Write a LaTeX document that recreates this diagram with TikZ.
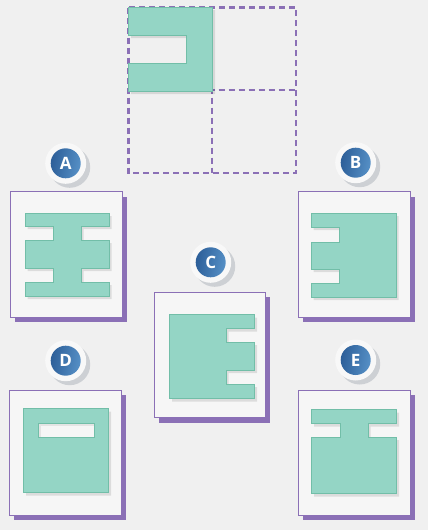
\documentclass[tikz,border=0pt]{standalone}
\usepackage{fontspec}
\setsansfont{Open Sans}
\definecolor{bg}{HTML}{F0F0F0}
\definecolor{piece}{HTML}{94D5C5}
\definecolor{piecedraw}{HTML}{72BEA8}
\definecolor{purp}{HTML}{8B70B6}
\definecolor{cardfill}{HTML}{F6F6F6}
\definecolor{bluedark}{HTML}{2D5F99}
\definecolor{bluelight}{HTML}{5690C6}
\definecolor{halo}{HTML}{F8F8F8}
\definecolor{haloshadow}{HTML}{CDD0D4}
\begin{document}
\begin{tikzpicture}[x=1pt,y=-1pt,
  shapestyle/.style={fill=piece,draw=piecedraw,line width=1pt,even odd rule,line join=miter},
  shapeshadow/.style={fill=black,fill opacity=0.10,even odd rule,draw=none},
  gridline/.style={draw=purp,line width=2.2pt,dash pattern=on 6pt off 4pt},
  cardbox/.style={fill=cardfill,draw=purp,line width=0.9pt},
  cardshadow/.style={fill=purp,draw=none},
  badge/.style={circle,minimum size=30pt,inner sep=0pt,left color=bluedark,right color=bluelight,shading angle=80,text=white,font=\sffamily\bfseries\fontsize{17}{17}\selectfont},
  halocircle/.style={circle,minimum size=41pt,inner sep=0pt,fill=halo},
  haloshade/.style={circle,minimum size=41pt,inner sep=0pt,fill=haloshadow}
]
\useasboundingbox (0,0) rectangle (428,530);
\fill[bg] (0,0) rectangle (428,530);

% ---------- top grid ----------
\draw[gridline] (128.5,7.5) rectangle (296,173);
\draw[gridline] (212.3,7.5) -- (212.3,173);
\draw[gridline] (128.5,90.3) -- (296,90.3);
\fill[shapeshadow] (131,10) -- (215,10) -- (215,94) -- (131,94) -- (131,66) -- (189,66) -- (189,38) -- (131,38) -- cycle;
\path[shapestyle] (128,7) -- (212,7) -- (212,91) -- (128,91) -- (128,63) -- (186,63) -- (186,35) -- (128,35) -- cycle;

% Card A
\fill[cardshadow] (15,196.5) rectangle (127,322);
\path[cardbox] (10,191.7) rectangle (122.5,317);
\node[haloshade] (hsA) at (69.7,167.3) {};
\node[halocircle] (hA) at (65.7,163.3) {};
\node[badge] (bA) at (hA) {A};
\begin{scope}[shift={(2.5,3)}]
\fill[shapeshadow] (25,213) -- (109,213) -- (109,226) -- (81,226) -- (81,240) -- (109,240) -- (109,268) -- (81,268) -- (81,282) -- (109,282) -- (109,296) -- (25,296) -- (25,282) -- (53,282) -- (53,268) -- (25,268) -- (25,240) -- (53,240) -- (53,226) -- (25,226) -- cycle;
\end{scope}
\path[shapestyle] (25,213) -- (109,213) -- (109,226) -- (81,226) -- (81,240) -- (109,240) -- (109,268) -- (81,268) -- (81,282) -- (109,282) -- (109,296) -- (25,296) -- (25,282) -- (53,282) -- (53,268) -- (25,268) -- (25,240) -- (53,240) -- (53,226) -- (25,226) -- cycle;

% Card B
\fill[cardshadow] (303,196.5) rectangle (414.5,322);
\path[cardbox] (298.3,191.7) rectangle (410,317);
\node[haloshade] (hsB) at (359.7,166.7) {};
\node[halocircle] (hB) at (355.7,162.7) {};
\node[badge] (bB) at (hB) {B};
\begin{scope}[shift={(2.5,3)}]
\fill[shapeshadow] (311,213) -- (396,213) -- (396,297) -- (311,297) -- (311,283) -- (339,283) -- (339,269) -- (311,269) -- (311,242) -- (339,242) -- (339,227) -- (311,227) -- cycle;
\end{scope}
\path[shapestyle] (311,213) -- (396,213) -- (396,297) -- (311,297) -- (311,283) -- (339,283) -- (339,269) -- (311,269) -- (311,242) -- (339,242) -- (339,227) -- (311,227) -- cycle;

% Card C
\fill[cardshadow] (158.5,297) rectangle (270,422.5);
\path[cardbox] (154,292.3) rectangle (265.7,417.5);
\node[haloshade] (hsC) at (214.7,266.3) {};
\node[halocircle] (hC) at (210.7,262.3) {};
\node[badge] (bC) at (hC) {C};
\begin{scope}[shift={(2.5,3)}]
\fill[shapeshadow] (169.5,314.5) -- (254.5,314.5) -- (254.5,328.5) -- (226,328.5) -- (226,342) -- (254.5,342) -- (254.5,370) -- (226,370) -- (226,384) -- (254.5,384) -- (254.5,398.5) -- (169.5,398.5) -- cycle;
\end{scope}
\path[shapestyle] (169.5,314.5) -- (254.5,314.5) -- (254.5,328.5) -- (226,328.5) -- (226,342) -- (254.5,342) -- (254.5,370) -- (226,370) -- (226,384) -- (254.5,384) -- (254.5,398.5) -- (169.5,398.5) -- cycle;

% Card D
\fill[cardshadow] (13.5,394.5) rectangle (125.5,520);
\path[cardbox] (9,390) rectangle (121,515);
\node[haloshade] (hsD) at (69.7,364.7) {};
\node[halocircle] (hD) at (65.7,360.7) {};
\node[badge] (bD) at (hD) {D};
\begin{scope}[shift={(2.5,3)}]
\fill[shapeshadow] (23.5,408.5) rectangle (108.5,492.5) (36,420) rectangle (91.5,434);
\end{scope}
\path[shapestyle] (23.5,408.5) rectangle (108.5,492.5) (38.5,423) rectangle (94,437);
\fill[black,opacity=0.07] (39,423.5) rectangle (93.5,426);
\fill[black,opacity=0.07] (39,426) rectangle (41,436.5);

% Card E
\fill[cardshadow] (302.5,394.5) rectangle (414.5,520);
\path[cardbox] (298,390) rectangle (410,515);
\node[haloshade] (hsE) at (359.7,364) {};
\node[halocircle] (hE) at (355.7,360) {};
\node[badge] (bE) at (hE) {E};
\begin{scope}[shift={(2.5,3)}]
\fill[shapeshadow] (311.5,409.5) -- (396.5,409.5) -- (396.5,423.5) -- (368,423.5) -- (368,437) -- (396.5,437) -- (396.5,493.5) -- (311.5,493.5) -- (311.5,437) -- (340,437) -- (340,423.5) -- (311.5,423.5) -- cycle;
\end{scope}
\path[shapestyle] (311.5,409.5) -- (396.5,409.5) -- (396.5,423.5) -- (368,423.5) -- (368,437) -- (396.5,437) -- (396.5,493.5) -- (311.5,493.5) -- (311.5,437) -- (340,437) -- (340,423.5) -- (311.5,423.5) -- cycle;
\end{tikzpicture}
\end{document}
